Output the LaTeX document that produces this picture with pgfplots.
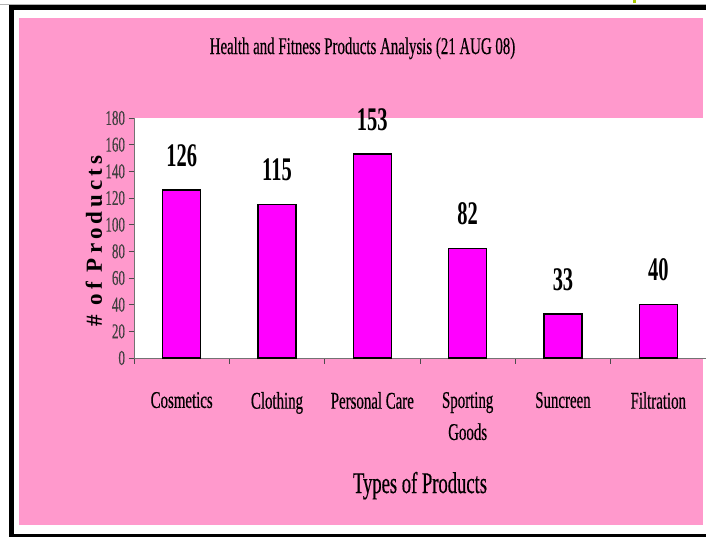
\documentclass[border=0pt]{standalone}
\usepackage{pgfplots}
\pgfplotsset{compat=1.18}
\usepackage{pgfplotstable}
\usepackage{fontspec}
\setmainfont{Liberation Serif}[FakeStretch=0.62, UprightFeatures={FakeBold=0.4}]
\newfontfamily\ylabfont{Liberation Serif}[LetterSpace=18]

\definecolor{chartpink}{RGB}{255,153,204}
\definecolor{barmag}{RGB}{255,0,255}
\definecolor{cornermark}{RGB}{170,204,0}

% product counts per category
\pgfplotstableread{
idx count
0 126
1 115
2 153
3 82
4 33
5 40
}\products

\begin{document}
\begin{tikzpicture}
\useasboundingbox (0,0) rectangle (706bp,-537bp);
\fill[white] (0,0) rectangle (706bp,-537bp);
% frame around the chart
\draw[gray!60, line width=0.8bp] (0,-4bp) -- (706bp,-4bp);
\fill[black] (9bp,-4.5bp) rectangle (706bp,-9.5bp);
\fill[black] (9bp,-4.5bp) rectangle (14bp,-537bp);
\fill[black] (9bp,-534bp) rectangle (706bp,-537bp);
\fill[cornermark] (633bp,0) rectangle (636bp,-3bp);
% chart area
\fill[chartpink] (19bp,-18bp) rectangle (703bp,-525bp);

\begin{axis}[
  at={(134bp,-358bp)}, anchor=south west,
  scale only axis, width=572bp, height=240bp,
  xmin=-0.5, xmax=5.5, ymin=0, ymax=180,
  axis background/.style={fill=white},
  axis x line*=bottom, axis y line*=left,
  axis line style={black!55, line width=0.9bp, -},
  tick align=outside, major tick length=5.5bp,
  tick style={black!70, line width=0.8bp},
  xtick={-0.5,0.5,...,5.5},
  x tick label as interval,
  xticklabels={Cosmetics,Clothing,Personal Care,{Sporting\\Goods},Suncreen,Filtration},
  xticklabel style={font=\fontsize{24bp}{32bp}\selectfont, align=center, anchor=north, yshift=-25bp},
  ytick={0,20,...,180},
  yticklabel style={font=\fontsize{21bp}{21bp}\selectfont, text=black!75, anchor=east},
  /pgf/number format/assume math mode=true,
  ybar, bar width=38bp,
  nodes near coords,
  nodes near coords style={font=\bfseries\fontsize{33bp}{33bp}\selectfont, anchor=base, yshift=24bp},
  title={Health and Fitness Products Analysis (21 AUG 08)},
  title style={at={(axis description cs:0.3995,1.2417)}, anchor=base, font=\fontsize{24bp}{24bp}\selectfont},
  xlabel={Types of Products},
  xlabel style={at={(axis description cs:0.5,-0.5625)}, anchor=base, font=\fontsize{30bp}{30bp}\selectfont},
  ylabel={\# of Products},
  ylabel style={at={(axis description cs:-0.0560,0.4875)}, anchor=base, font=\ylabfont\bfseries\fontsize{23bp}{23bp}\selectfont},
]
\addplot[fill=barmag, draw=black, line width=1.1bp] table[x=idx, y=count] {\products};
\end{axis}
\end{tikzpicture}
\end{document}
